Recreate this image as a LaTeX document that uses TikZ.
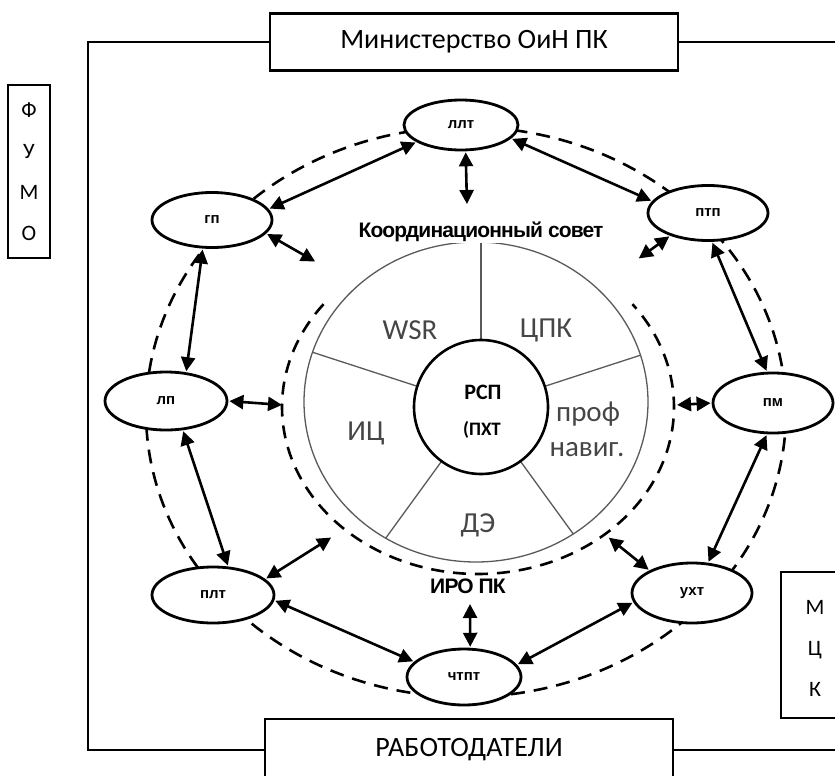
\documentclass[tikz,border=0pt]{standalone}
\usepackage{fontspec}
\setmainfont{Carlito}
\newfontfamily\arialf{Liberation Sans}
\newfontfamily\tightf{Liberation Sans}[LetterSpace=-4]
\usetikzlibrary{arrows.meta,shapes.geometric}
\definecolor{wheelgray}{RGB}{70,70,70}
\definecolor{wheelline}{RGB}{90,90,90}
\tikzset{
  frameline/.style={line width=2.8pt},
  orgbox/.style={draw, line width=2.8pt, fill=white, rectangle, inner sep=0pt, font=\fontsize{28}{28}\selectfont},
  sidebox/.style={draw, line width=2.8pt, fill=white, rectangle, inner sep=0pt, align=center, font=\fontsize{22}{41}\selectfont},
  org/.style={draw, ellipse, line width=2.8pt, fill=white, inner sep=0pt, font=\arialf\bfseries\fontsize{15}{15}\selectfont},
  link/.style={line width=2.6pt, {Triangle[length=14pt,width=14pt]}-{Triangle[length=14pt,width=14pt]}, shorten <=1pt, shorten >=1pt},
  ringline/.style={line width=2.6pt, dash pattern=on 14pt off 9pt},
  innerring/.style={line width=2.6pt, dash pattern=on 13pt off 9pt},
  sect/.style={text=wheelgray, font=\fontsize{29}{29}\selectfont, inner sep=0pt},
  title/.style={font=\tightf\bfseries\fontsize{21}{21}\selectfont, inner sep=1pt, fill=white},
}
\begin{document}
\begin{tikzpicture}[x=1pt,y=-1pt]
\useasboundingbox (0,0) rectangle (835,776);

% frame and outside boxes
\node[orgbox, minimum width=408pt, minimum height=57pt] (mino) at (474,42) {Министерство ОиН ПК};
\node[orgbox, minimum width=408pt, minimum height=62pt] (rab) at (469,750) {РАБОТОДАТЕЛИ};
\coordinate (tl) at (88,42);
\coordinate (bl) at (88,750);
\coordinate (tr) at (835,42);
\coordinate (br) at (835,750);
\draw[frameline] (mino.west) -- (tl) -- (bl) -- (rab.west);
\draw[frameline] (mino.east) -- (tr);
\draw[frameline] (rab.east) -- (br);

\node[sidebox, minimum width=42pt, minimum height=173pt] (fumo) at (29,171.5) {Ф\\У\\М\\О};
\draw[line width=2.8pt, fill=white] (781,572) rectangle (850,718);
\node[align=center, inner sep=0pt, font=\fontsize{22}{41}\selectfont] (mck) at (815,648) {М\\Ц\\К};

% dashed rings
\draw[ringline] (466,412) ellipse [x radius=320pt, y radius=285pt];
\draw[innerring] plot[domain=142:398, samples=120, smooth] ({478+196*cos(\x)}, {407-167*sin(\x)});

% wheel
\draw[wheelline, line width=1.3pt, fill=white] (476,402) ellipse [x radius=172pt, y radius=160pt];
\coordinate (wc) at (481,407);
\begin{scope}
  \clip (476,402) ellipse [x radius=172pt, y radius=160pt];
  \foreach \a in {90,162,234,306,18}
    \draw[wheelline, line width=1.3pt] (wc) -- ++({250*cos(\a)},{-250*sin(\a)});
\end{scope}
\node[sect] (wsr) at (410,330) {WSR};
\node[sect] (cpk) at (546,330) {ЦПК};
\node[sect] (ic) at (366,433) {ИЦ};
\node[sect] (prof) at (588,414) {проф};
\node[sect] (nav) at (587,450) {навиг.};
\node[sect] (de) at (478,525) {ДЭ};
\node[draw, circle, line width=2.6pt, fill=white, minimum size=134pt, inner sep=0pt] (rsp) at (wc) {};
\node[font=\bfseries\fontsize{22}{22}\selectfont, inner sep=0pt] (rsp1) at (483,392) {РСП};
\node[font=\bfseries\fontsize{19}{19}\selectfont, inner sep=0pt] (rsp2) at (482,430) {(ПХТ};

\node[title] (ks) at (481,232) {Координационный совет};
\node[title] (iro) at (468,586) {ИРО ПК};

% organisations
\node[org, minimum width=114pt, minimum height=50pt] (llt) at (461,125) {ллт};
\node[org, minimum width=120pt, minimum height=55pt] (gp) at (212,220) {гп};
\node[org, minimum width=120pt, minimum height=55pt] (ptp) at (708,213) {птп};
\node[org, minimum width=122pt, minimum height=58pt] (lp) at (166,401) {лп};
\node[org, minimum width=120pt, minimum height=60pt] (pm) at (773,403) {пм};
\node[org, minimum width=122pt, minimum height=56pt] (plt) at (213,595) {плт};
\node[org, minimum width=120pt, minimum height=60pt] (uxt) at (692,593) {ухт};
\node[org, minimum width=114pt, minimum height=56pt] (chtpt) at (464,677) {чтпт};

% ring links
\draw[link] (llt.201) -- (gp.11);
\draw[link] (llt.345) -- (ptp.168);
\draw[link] (ptp.278) -- (pm.101);
\draw[link] (pm.259) -- (uxt.62);
\draw[link] (uxt.189) -- (chtpt.13);
\draw[link] (chtpt.163) -- (plt.355);
\draw[link] (plt.62) -- (lp.300);
\draw[link] (lp.55) -- (gp.252);

% inner links
\coordinate (i1) at (467,205);
\coordinate (i2) at (316,262);
\coordinate (i3) at (638,259);
\coordinate (i4) at (283,405);
\coordinate (i5) at (676,405);
\coordinate (i6) at (332,537);
\coordinate (i7) at (608,537);
\coordinate (i8) at (470,603);
\draw[link] (llt.-80) -- (i1);
\draw[link] (gp.346) -- (i2);
\draw[link] (ptp.211) -- (i3);
\draw[link] (lp.east) -- (i4);
\draw[link] (pm.west) -- (i5);
\draw[link] (plt.17) -- (i6);
\draw[link] (uxt.152) -- (i7);
\draw[link] (chtpt.78) -- (i8);
\end{tikzpicture}
\end{document}
